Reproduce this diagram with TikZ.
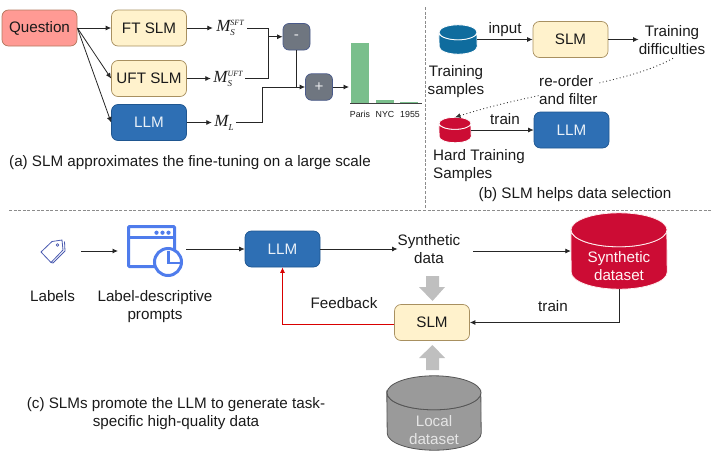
\documentclass[tikz,border=0pt]{standalone}
\usepackage{fontspec}
\setmainfont{Liberation Sans}
\newfontfamily\mserif{Liberation Serif}
\usetikzlibrary{arrows.meta,calc}
\definecolor{slmfill}{HTML}{FFF2CC}
\definecolor{slmline}{HTML}{A89060}
\definecolor{qfill}{HTML}{FF9A94}
\definecolor{qline}{HTML}{B5795F}
\definecolor{llmfill}{HTML}{2E6FB4}
\definecolor{llmline}{HTML}{1F5690}
\definecolor{opfill}{HTML}{6F7680}
\definecolor{opline}{HTML}{4A5A8A}
\definecolor{barg}{HTML}{7ABF8C}
\definecolor{cylblue}{HTML}{0F6C9E}
\definecolor{cylred}{HTML}{CC0C34}
\definecolor{cylgray}{HTML}{9A9A9A}
\definecolor{cyldark}{HTML}{555555}
\definecolor{icon}{HTML}{4F7CEC}
\definecolor{tagc}{HTML}{4A5AB0}
\definecolor{txt}{HTML}{1A1A1A}
\tikzset{
  x=1pt,y=-1pt,
  every node/.style={font=\fontsize{15.2}{18}\selectfont,text=txt,inner sep=0pt,align=center},
  boxbase/.style={draw,rounded corners=6.5pt,minimum width=75pt,minimum height=36pt,line width=.7pt},
  slm/.style={boxbase,fill=slmfill,draw=slmline},
  llm/.style={boxbase,fill=llmfill,draw=llmline,text=white!90!llmfill},
  qbox/.style={boxbase,fill=qfill,draw=qline},
  opbox/.style={draw=opline,fill=opfill,rounded corners=6pt,minimum width=27pt,minimum height=26.5pt,line width=.7pt,text=white!85!opfill},
  conn/.style={draw=black!85,line width=.8pt,-{Latex[length=5.5pt,width=5pt]}},
  plainc/.style={draw=black!85,line width=.8pt},
  sep/.style={draw=black!45,line width=.6pt,dash pattern=on 3pt off 1.6pt},
  mlab/.style={minimum width=#1,minimum height=20pt},
  bar/.style={fill=barg,draw=none},
  tick/.style={font=\fontsize{8.8}{10}\selectfont},
  grayarrow/.style={fill=black!25,draw=none},
  cyltext/.style={text=white!85!pink},
}
% name, cx, cy, w, h, ry, fill, rim
\newcommand{\cylnode}[8]{%
  \node[minimum width=#4 pt,minimum height=#5 pt] (#1) at (#2,#3) {};
  \path[fill=#7,draw=#8,line width=.8pt]
    ($(#1.north west)+(0,#6)$) arc[start angle=180,end angle=360,x radius=#4/2,y radius=-#6]
    -- ($(#1.south east)+(0,-#6)$) arc[start angle=360,end angle=180,x radius=#4/2,y radius=-#6] -- cycle;
  \path[fill=#7,draw=#8,line width=.8pt]
    ($(#1.north)+(0,#6)$) ellipse[x radius=#4/2,y radius=#6];
}
\newcommand{\mvar}[3]{{\mserif\itshape\fontsize{17}{17}\selectfont M\raisebox{-4pt}{\rlap{\fontsize{9}{9}\selectfont #2}}\raisebox{6pt}{\fontsize{8}{8}\selectfont #3}}}
\begin{document}
\begin{tikzpicture}
\useasboundingbox (0,0) rectangle (711,450);
% separators
\coordinate (sv1) at (425,7); \coordinate (sv2) at (425,208);
\coordinate (sh1) at (9,210); \coordinate (sh2) at (711,210);
\path[sep] (sv1) -- (sv2);
\path[sep] (sh1) -- (sh2);

% ---- panel (a)
\node[qbox] (q) at (39.5,28) {Question};
\node[slm] (ft) at (149,28) {FT SLM};
\node[slm] (uft) at (149,78.5) {UFT SLM};
\node[llm] (llma) at (149,122.5) {LLM};
\node[mlab=34pt] (m1) at (230,28) {\mvar{M}{S}{SFT}};
\node[mlab=34pt] (m2) at (228,78.5) {\mvar{M}{S}{UFT}};
\node[mlab=24pt] (m3) at (224,122.5) {{\mserif\itshape\fontsize{17}{17}\selectfont M\raisebox{-4pt}{\fontsize{9}{9}\selectfont L}}};
\node[opbox] (minus) at (296.5,36.75) {-};
\node[opbox] (plus) at (319,87) {+};
\coordinate (j1) at (268,36.75);
\coordinate (bars) at (349,87);
\path[conn] (q.east) -- (ft.west);
\path[conn] (q.east) -- (uft.west);
\path[conn] (q.east) -- (llma.west);
\path[conn] (ft.east) -- (m1.west);
\path[conn] (uft.east) -- (m2.west);
\path[conn] (llma.east) -- (m3.west);
\path[plainc] (m1.east) -| (j1);
\path[plainc] (m2.east) -| (j1);
\path[conn] (j1) -- (minus.west);
\path[plainc] (minus.south) -- (minus.south |- plus.west);
\path[conn] (m3.east) -- ++(26,0) |- (plus.west);
\path[conn] (plus.east) -- (bars);
\path[bar] (351,43) rectangle (369,103);
\path[bar] (376,100) rectangle (394,103);
\path[bar] (400,101.5) rectangle (418,103);
\coordinate (b1) at (350,103); \coordinate (b2) at (422,103);
\path[draw=black!75,line width=.7pt] (b1) -- (b2);
\node[tick] (tp) at (360,114) {Paris};
\node[tick] (tn) at (385,114) {NYC};
\node[tick] (ty) at (410,114) {1955};
\node[anchor=west] (capa) at (9,163) {(a) SLM approximates the fine-tuning on a large scale};

% ---- panel (b)
\cylnode{tsam}{458}{39.5}{38}{29}{7.5}{cylblue}{white}
\node[slm] (slmb) at (570.5,39.5) {SLM};
\node (tdif) at (672,40.5) {Training\\difficulties};
\node (tslab) at (456,81.5) {Training\\samples};
\node (inp) at (505,30) {input};
\path[conn] (tsam.east) -- (slmb.west);
\path[conn] (slmb.east) -- (slmb.east -| tdif.west);
\cylnode{hard}{455}{130}{32}{25}{6}{cylred}{white}
\node[llm] (llmb) at (571.5,130) {LLM};
\node (trb) at (505,119) {train};
\node[anchor=west,align=left] (hlab) at (433,166) {Hard Training\\Samples};
\path[conn] (hard.east) -- (llmb.west);
\path[draw=black!80,line width=.9pt,dash pattern=on .9pt off 2.6pt,-{Latex[length=5.5pt,width=5pt]}]
  (tdif.south) ++(1,3) coordinate (dstart) (dstart) .. controls (625,85) and (540,90) .. (hard.north);
\node[fill=white,anchor=west,align=left,inner xsep=0pt] (reo) at (539,90.5) {re-order\\and filter};
\node (capb) at (575,195) {(b) SLM helps data selection};

% ---- panel (c)
\coordinate (tagc) at (52,251);
\begin{scope}[shift={(tagc)},draw=tagc,line width=.8pt,line join=round]
  \path[draw=tagc] (-11,1) -- (0,-9.5) -- (10,-11) -- (11,-1) -- (-1,11.5) -- cycle;
  \path[draw=tagc] (12.5,-9.5) -- (13,0) -- (1,12) -- (-1,11.5);
  \path[draw=tagc] (5.5,-6) circle[radius=1.4];
\end{scope}
\node[minimum size=24pt] (tag) at (52,251) {};
\node[minimum width=49pt,minimum height=43pt] (win) at (151.5,246.5) {};
\path[draw=icon,line width=3pt,rounded corners=1pt,fill=white] (128.5,226.5) rectangle (174.5,266.5);
\path[draw=icon,line width=2.6pt] (128,237.5) -- (175,237.5);
\foreach \xx in {156.5,162.5,168.5}{\path[fill=icon] (\xx,232.7) circle[radius=2.1];}
\path[draw=icon,line width=3pt,fill=white] (168,262) circle[radius=13.5];
\path[draw=icon,line width=2.4pt] (168.5,251) -- (168.5,263) -- (180,263);
\node (lbl) at (52.5,296) {Labels};
\node (lpr) at (155,307) {Label-descriptive\\prompts};
\node[llm] (llmc) at (282.5,249) {LLM};
\node (syn) at (429,249.5) {Synthetic\\data};
\cylnode{sds}{619}{251}{96}{76}{17}{cylred}{white!75!pink}
\node[cyltext] (sdst) at (619,266.5) {Synthetic\\dataset};
\node[slm] (slmc) at (432,322.5) {SLM};
\node (fb) at (344,303) {Feedback};
\node (trc) at (553,306) {train};
\path[conn] (tag.east) ++(17,0) coordinate (t1) (t1) -- (118,251);
\coordinate (w1) at (186,249);
\path[conn] (w1) -- (llmc.west);
\path[conn] (llmc.east) -- (llmc.east -| syn.west);
\coordinate (s1) at (473,251);
\path[conn] (s1) -- (sds.west);
\path[conn] (sds.south) |- (slmc.east);
\path[draw=red!85!black,line width=.8pt,-{Latex[length=5.5pt,width=5pt]}] (slmc.west) ++(0,1.5) -| (llmc.south);
\path[grayarrow] (426,276) -- (439,276) -- (439,287) -- (445,287) -- (432.5,301) -- (419,287) -- (426,287) -- cycle;
\path[grayarrow] (426,370) -- (439,370) -- (439,358) -- (445,358) -- (432.5,345) -- (419,358) -- (426,358) -- cycle;
\cylnode{loc}{434}{413}{94}{74}{17}{cylgray}{cyldark}
\node[text=white!90!black] (loct) at (434,430) {Local\\dataset};
\node (capc) at (176,414) {(c) SLMs promote the LLM to generate task-\\specific high-quality data};
\end{tikzpicture}
\end{document}
